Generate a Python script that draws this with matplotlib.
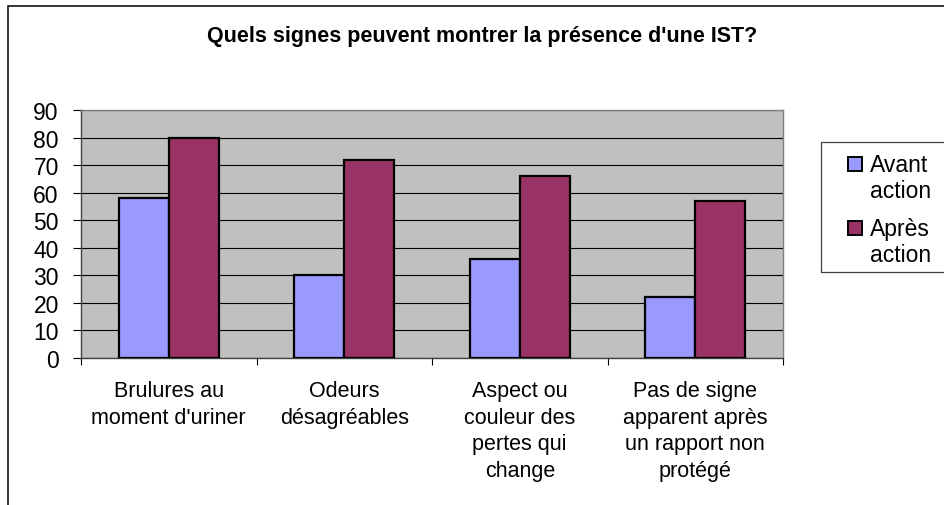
import matplotlib
matplotlib.use('Agg')
import matplotlib.pyplot as plt
import numpy as np
from matplotlib.patches import Rectangle

plt.rcParams['font.family'] = ['Liberation Sans', 'DejaVu Sans']

categories = ["Brulures au\nmoment d'uriner",
              "Odeurs\ndésagréables",
              "Aspect ou\ncouleur des\npertes qui\nchange",
              "Pas de signe\napparent après\nun rapport non\nprotégé"]
series_names = ["Avant\naction", "Après\naction"]
avant = [58, 30, 36, 22]
apres = [80, 72, 66, 57]
colors = ['#9999FF', '#993366']
y_ticks = list(range(0, 100, 10))
title = "Quels signes peuvent montrer la présence d'une IST?"

W, H = 945, 506
fig = plt.figure(figsize=(W / 100, H / 100), dpi=100)

def px(x, y):
    # pixel (from top-left) -> figure fraction
    return x / W, 1 - y / H

# plot area
left, top = px(81, 111)
right, bottom = px(783, 359)
ax = fig.add_axes([left, bottom, right - left, top - bottom])
ax.set_facecolor('#C0C0C0')

x = np.arange(len(categories))
bw = 0.285
ax.bar(x - bw / 2, avant, bw, color=colors[0], edgecolor='black', linewidth=1.6, zorder=3)
ax.bar(x + bw / 2, apres, bw, color=colors[1], edgecolor='black', linewidth=1.6, zorder=3)

ax.set_xlim(-0.5, len(categories) - 0.5)
ax.set_ylim(0, 90)
ax.set_yticks(y_ticks)
ax.tick_params(axis='y', labelsize=16.5, length=6, width=0.8, pad=10, direction='out')
ax.yaxis.grid(True, color='black', linewidth=0.8, zorder=1)
ax.set_axisbelow(True)

# boundary ticks + centred labels
ax.set_xticks(np.arange(-0.5, len(categories), 1.0))
ax.set_xticklabels([])
ax.tick_params(axis='x', which='major', length=5, width=0.8, direction='out')
ax.set_xticks(x, minor=True)
ax.set_xticklabels(categories, minor=True, fontsize=15.5, linespacing=1.35)
ax.tick_params(axis='x', which='minor', length=0, pad=16)

for s in ['top', 'right']:
    ax.spines[s].set_color('#808080')
    ax.spines[s].set_linewidth(1)
for s in ['left', 'bottom']:
    ax.spines[s].set_color('#404040')
    ax.spines[s].set_linewidth(1)

# title
tx, ty = px(482, 42)
fig.text(tx, ty, title, ha='center', va='baseline', fontsize=15.5, fontweight='bold')

# chart border (open to right/bottom)
bx, by = px(8.5, 6.5)
fig.add_artist(Rectangle((bx, -0.1), 1.2, by + 0.1, transform=fig.transFigure,
                         fill=False, edgecolor='black', linewidth=1.1))

# legend
lx, ly = px(821.5, 142.5)
_, lb = px(0, 273)
fig.add_artist(Rectangle((lx, lb), 0.5, ly - lb, transform=fig.transFigure,
                         fill=False, edgecolor='#404040', linewidth=0.9))
for i, (name, c) in enumerate(zip(series_names, colors)):
    sy = 158 + i * 64
    sx0, sy0 = px(848, sy + 14)
    sw = 14 / W
    sh = 14 / H
    fig.add_artist(Rectangle((sx0, sy0), sw, sh, transform=fig.transFigure,
                             facecolor=c, edgecolor='black', linewidth=1.4))
    t_x, t_y = px(870, sy + 40)
    fig.text(t_x, t_y, name, ha='left', va='baseline', fontsize=16.5,
             linespacing=1.17, transform=fig.transFigure)

fig.savefig('out.png', dpi=100)
